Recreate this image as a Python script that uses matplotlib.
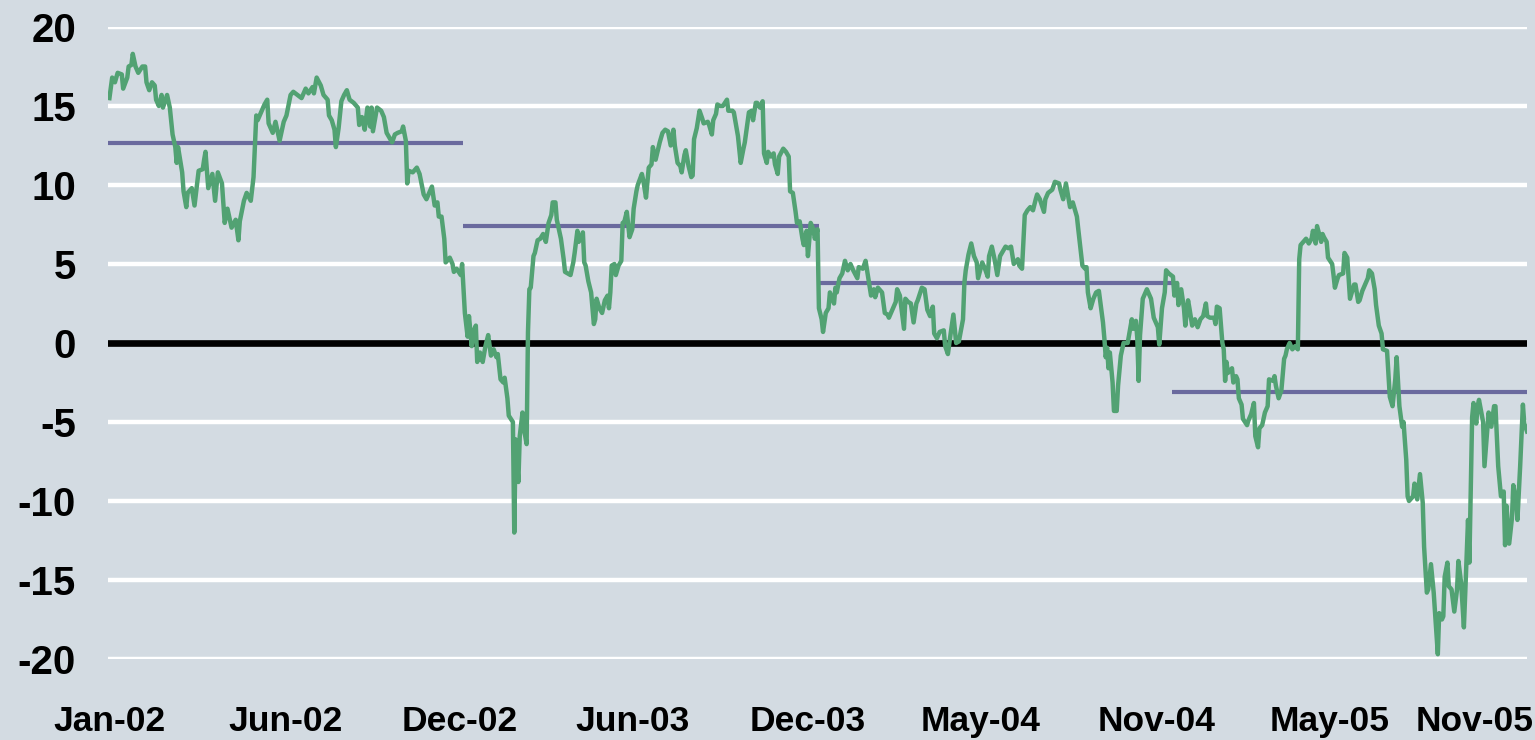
import matplotlib
matplotlib.use("Agg")
import matplotlib.pyplot as plt

# ---- data: trading-day index (0 = first trading day of Jan-2002) and value ----
day = [1, 3, 5, 7, 10, 11, 14, 15, 17, 18, 20, 22, 25, 27, 28, 30, 32, 34, 35, 37,
       39, 40, 43, 45, 47, 49, 50, 51, 54, 55, 57, 58, 61, 63, 66, 69, 70, 71, 73, 76,
       78, 80, 83, 85, 87, 90, 93, 95, 96, 99, 101, 104, 106, 108, 109, 112, 114, 116, 117, 120,
       122, 125, 128, 130, 133, 135, 138, 141, 144, 146, 149, 150, 152, 155, 157, 160, 161, 163, 165, 166,
       168, 170, 172, 174, 176, 179, 182, 183, 185, 187, 189, 191, 192, 193, 196, 199, 201, 203, 207, 209,
       211, 214, 215, 217, 218, 219, 222, 225, 227, 230, 232, 234, 236, 238, 240, 241, 243, 245, 246, 249,
       251, 252, 254, 257, 258, 260, 262, 263, 265, 266, 268, 269, 271, 273, 275, 277, 279, 281, 283, 284,
       286, 288, 289, 291, 292, 295, 296, 297, 299, 300, 302, 303, 305, 306, 307, 308, 310, 311, 313, 315,
       317, 319, 321, 323, 324, 326, 327, 330, 332, 333, 337, 339, 340, 342, 343, 346, 347, 348, 350, 352,
       354, 355, 356, 358, 360, 362, 364, 365, 366, 367, 369, 370, 372, 374, 375, 376, 378, 380, 382, 383,
       385, 386, 389, 390, 392, 394, 396, 397, 399, 402, 404, 406, 408, 410, 412, 413, 415, 417, 418, 420,
       421, 423, 425, 426, 427, 429, 431, 433, 434, 437, 438, 440, 441, 443, 444, 446, 448, 451, 452, 455,
       456, 459, 461, 463, 464, 467, 469, 470, 472, 473, 475, 477, 478, 480, 481, 483, 485, 486, 488, 489,
       492, 494, 496, 497, 499, 501, 502, 504, 506, 507, 509, 510, 512, 514, 515, 517, 518, 520, 521, 523,
       525, 526, 529, 530, 531, 533, 535, 537, 539, 541, 543, 546, 547, 550, 552, 554, 556, 558, 559, 561,
       564, 566, 568, 569, 572, 574, 575, 577, 580, 581, 583, 585, 587, 589, 590, 593, 595, 597, 599, 601,
       602, 604, 606, 609, 610, 612, 614, 616, 618, 620, 623, 624, 625, 627, 629, 631, 633, 634, 637, 639,
       641, 642, 644, 646, 648, 650, 652, 654, 656, 658, 660, 663, 664, 666, 668, 670, 672, 674, 676, 677,
       679, 682, 683, 685, 688, 690, 693, 694, 696, 698, 701, 703, 706, 707, 709, 710, 712, 713, 714, 716,
       718, 720, 722, 725, 726, 727, 728, 729, 730, 732, 733, 735, 736, 738, 740, 743, 744, 746, 747, 749,
       750, 751, 752, 754, 756, 757, 760, 762, 765, 766, 768, 770, 771, 773, 776, 777, 779, 780, 782, 784,
       785, 787, 788, 790, 792, 794, 796, 798, 800, 801, 803, 806, 807, 808, 810, 812, 813, 814, 815, 816,
       819, 820, 822, 823, 824, 826, 827, 830, 831, 833, 835, 836, 838, 839, 841, 843, 845, 846, 849, 850,
       851, 853, 855, 857, 858, 859, 861, 863, 865, 867, 868, 869, 871, 873, 875, 877, 878, 880, 881, 884,
       885, 886, 888, 889, 892, 893, 894, 896, 897, 900, 901, 903, 904, 905, 908, 909, 911, 912, 914, 916,
       918, 919, 921, 923, 924, 926, 928, 929, 932, 933, 934, 936, 938, 939, 940, 941, 943, 944, 946, 947,
       948, 951, 952, 954, 956, 958, 959, 961, 962, 964, 966, 967, 969, 970, 972, 973, 974, 976, 977, 979,
       981, 983, 984, 986, 988, 989, 991, 992, 994, 995, 997, 998, 999, 1002, 1003, 1005, 1006, 1008, 1010, 1011,
       1013, 1015, 1017, 1018, 1019, 1021, 1023, 1024, 1026, 1027, 1029, 1031, 1032, 1034]

value = [15.5, 16.8, 16.5, 17.1, 17.0, 16.1, 16.8, 17.5, 17.6, 18.3, 17.5, 17.1, 17.5, 17.5, 16.5, 16.0, 16.5, 16.3, 15.4, 15.0,
         15.7, 14.9, 15.7, 14.9, 13.2, 12.4, 11.4, 12.4, 10.8, 9.6, 8.6, 9.5, 9.8, 8.7, 10.9, 11.0, 11.6, 12.1, 9.8, 10.7,
         9.0, 10.8, 10.1, 7.6, 8.5, 7.3, 7.8, 6.5, 7.7, 9.0, 9.5, 9.0, 10.5, 14.4, 14.1, 14.7, 15.1, 15.4, 13.9, 13.3,
         14.0, 12.8, 14.0, 14.4, 15.7, 15.9, 15.7, 15.5, 16.1, 15.8, 16.2, 15.8, 16.8, 16.3, 15.7, 15.4, 14.4, 14.1, 13.5, 12.4,
         13.6, 15.3, 15.7, 16.0, 15.4, 15.2, 14.9, 13.8, 14.3, 13.5, 14.9, 13.7, 14.9, 13.4, 14.9, 14.7, 14.3, 13.3, 12.7, 13.2,
         13.3, 13.4, 13.7, 12.8, 10.1, 10.9, 10.8, 11.1, 10.7, 9.4, 9.1, 9.5, 9.9, 8.7, 8.9, 8.0, 8.0, 6.6, 5.1, 5.4,
         5.0, 4.5, 4.7, 4.3, 5.0, 1.9, 0.4, 1.7, -0.2, 0.7, 1.1, -1.2, -0.6, -1.2, -0.2, 0.5, -0.8, -0.4, -0.9, -0.7,
         -2.3, -2.5, -2.2, -3.5, -4.6, -5.0, -12.0, -6.1, -8.8, -5.9, -4.4, -5.4, -6.4, 0.7, 3.4, 3.5, 5.5, 5.7, 6.5, 6.6,
         6.9, 6.4, 7.6, 8.1, 8.9, 8.9, 7.8, 6.6, 5.3, 4.5, 4.3, 5.1, 5.7, 7.1, 6.4, 7.0, 5.1, 4.9, 3.9, 3.2,
         1.2, 1.5, 2.8, 2.2, 1.9, 2.7, 3.0, 2.2, 3.2, 4.9, 5.0, 4.3, 4.9, 5.2, 7.6, 7.6, 8.3, 6.7, 7.2, 8.5,
         9.6, 10.0, 10.7, 10.3, 9.2, 11.1, 11.3, 12.4, 11.6, 12.7, 13.3, 13.5, 13.4, 12.5, 13.5, 12.5, 11.4, 11.2, 10.8, 11.9,
         12.2, 11.2, 10.5, 10.6, 12.9, 13.6, 14.7, 14.2, 13.9, 14.0, 13.8, 13.2, 14.1, 14.5, 15.1, 15.0, 15.0, 15.4, 14.7, 14.7,
         14.6, 13.1, 11.4, 12.3, 12.7, 14.6, 14.7, 14.1, 15.2, 15.2, 14.9, 15.3, 12.0, 11.4, 12.1, 11.8, 12.0, 11.3, 10.7, 11.8,
         12.3, 12.1, 11.8, 9.6, 9.5, 8.3, 7.6, 7.7, 6.6, 6.2, 7.1, 5.5, 7.6, 7.2, 6.6, 7.2, 2.2, 1.5, 0.7, 1.9,
         2.2, 3.2, 2.5, 3.5, 3.2, 4.1, 4.4, 5.2, 4.6, 5.0, 4.6, 4.1, 4.8, 4.7, 5.2, 4.1, 3.0, 3.4, 2.9, 3.5,
         3.2, 1.9, 1.8, 1.6, 2.2, 2.6, 3.4, 3.0, 0.9, 2.8, 2.6, 2.5, 1.3, 2.5, 2.7, 3.5, 3.4, 2.1, 1.7, 2.3,
         0.6, 0.3, 0.7, 0.8, -0.2, -0.7, 0.6, 1.8, 0.0, 0.1, 1.5, 3.8, 4.6, 5.6, 6.3, 5.5, 5.1, 4.1, 5.1, 4.7,
         4.2, 5.5, 6.1, 5.3, 4.3, 5.5, 5.8, 6.1, 6.0, 6.1, 5.0, 5.3, 4.9, 4.7, 8.1, 8.4, 8.6, 8.4, 9.1, 9.4,
         9.1, 8.3, 9.1, 9.5, 9.7, 10.2, 10.1, 9.7, 9.1, 10.1, 8.6, 8.9, 8.0, 7.2, 5.7, 4.9, 4.7, 4.8, 3.2, 2.2,
         2.8, 3.2, 3.3, 1.3, 0.3, -0.9, -0.3, -1.6, -0.6, -2.5, -4.3, -4.3, -2.7, -0.8, 0.0, 0.0, 0.5, 1.5, 0.9, 1.4,
         0.3, -2.4, 0.5, 2.8, 3.2, 3.4, 2.8, 1.6, 1.0, -0.1, 2.2, 3.2, 4.6, 4.4, 4.2, 3.0, 3.8, 2.4, 3.4, 2.2,
         1.1, 2.7, 2.2, 1.1, 1.5, 1.0, 1.5, 1.7, 2.5, 1.7, 1.6, 1.6, 1.2, 2.3, 2.2, 0.0, -0.4, -2.4, -1.2, -1.9,
         -1.6, -2.5, -2.1, -2.3, -3.5, -3.9, -4.8, -5.2, -4.9, -4.5, -3.8, -5.9, -6.6, -5.4, -5.2, -4.4, -4.0, -2.3, -2.4, -2.1,
         -2.7, -3.5, -3.0, -1.0, -0.8, -0.4, 0.0, -0.4, -0.2, -0.4, 5.3, 6.2, 6.4, 6.6, 6.3, 6.6, 7.1, 6.3, 7.4, 6.4,
         6.9, 6.7, 6.4, 5.4, 5.0, 4.3, 3.5, 4.1, 4.3, 4.4, 5.7, 5.4, 4.1, 2.8, 3.7, 3.7, 2.6, 2.7, 3.3, 3.7,
         4.1, 4.6, 4.4, 3.4, 2.4, 1.1, 0.6, -0.4, -0.5, -1.9, -3.4, -4.0, -2.3, -0.9, -2.5, -4.0, -5.3, -5.0, -7.4, -9.7,
         -10.0, -9.7, -8.9, -9.9, -8.3, -10.1, -12.9, -15.8, -15.6, -14.0, -15.8, -17.1, -19.7, -17.1, -17.5, -17.3, -14.8, -13.9, -15.4, -15.6,
         -17.0, -15.6, -13.8, -15.2, -18.0, -15.8, -11.2, -13.9, -4.7, -3.8, -5.1, -4.0, -3.6, -5.0, -7.8, -5.5, -4.4, -5.3, -4.0, -4.0,
         -7.8, -9.7, -9.4, -12.8, -10.3, -12.7, -11.1, -9.0, -9.9, -11.2, -7.8, -3.9, -5.1, -5.6]

# yearly averages: start / end trading-day index and mean
year_start = [0, 259, 518, 775]
year_end = [259, 518, 775, 1034]
year_mean = [12.67, 7.39, 3.77, -3.09]

tick_days = [1, 129, 256, 382, 510, 636, 764, 890, 996]
tick_labels = ["Jan-02", "Jun-02", "Dec-02", "Jun-03", "Dec-03",
               "May-04", "Nov-04", "May-05", "Nov-05"]
y_ticks = [-20, -15, -10, -5, 0, 5, 10, 15, 20]

# ---- styling ----
BG = "#D3DBE2"
GREEN = "#52A273"
PURPLE = "#6A6A9E"

plt.rcParams["font.family"] = ["Liberation Sans", "DejaVu Sans"]
plt.rcParams["font.weight"] = "bold"

fig = plt.figure(figsize=(15.35, 7.40), dpi=100, facecolor=BG)
ax = fig.add_axes([0.0704, 0.1095, 0.9244, 0.854])
ax.set_facecolor(BG)

for yv in y_ticks:
    if yv != 0:
        ax.axhline(yv, color="white", lw=3.2, zorder=1)
ax.axhline(0, color="black", lw=4.8, zorder=2)

ax.hlines(year_mean, year_start, year_end, color=PURPLE, lw=3.0, zorder=3)
ax.plot(day, value, color=GREEN, lw=3.2, zorder=4, solid_joinstyle="round")

ax.set_xlim(0, 1034)
ax.set_ylim(-20, 20)
ax.set_yticks(y_ticks)
ax.set_yticklabels([str(v) for v in y_ticks], fontsize=29, fontweight="bold")
ax.set_xticks(tick_days)
ax.set_xticklabels(tick_labels, fontsize=25.5, fontweight="bold")
ax.tick_params(axis="y", length=0, pad=23)
ax.tick_params(axis="x", length=0, pad=33)
for s in ax.spines.values():
    s.set_visible(False)

fig.savefig("out.png", dpi=100, facecolor=BG)
